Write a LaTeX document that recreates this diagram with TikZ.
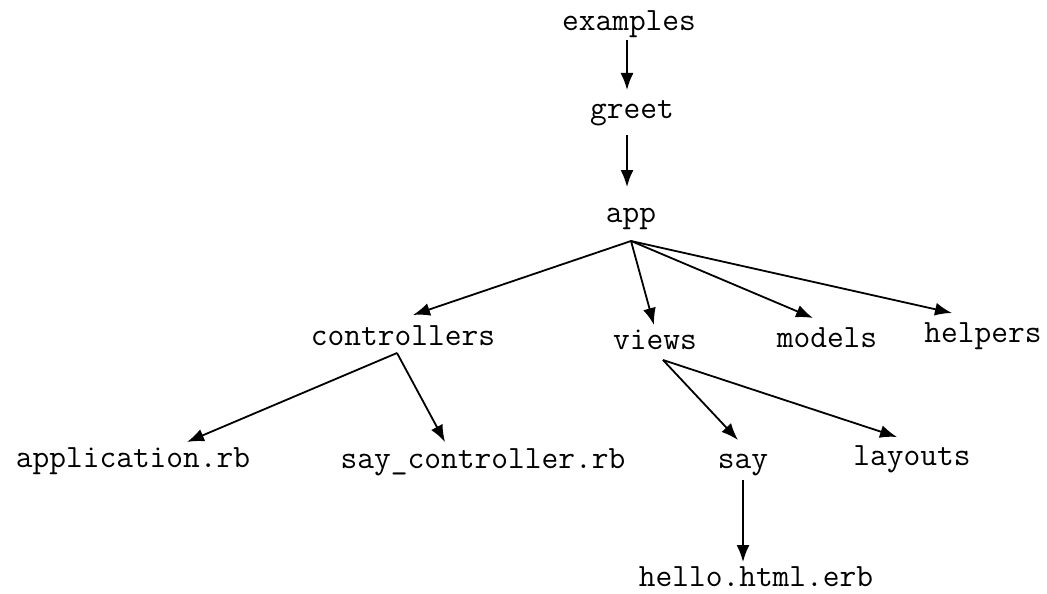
\documentclass[tikz,border=0pt]{standalone}
\usepackage{fontspec}
\usetikzlibrary{arrows.meta,calc}
\tikzset{
  lbl/.style={anchor=base, inner sep=0pt, font=\ttfamily\fontsize{32.5}{34}\selectfont},
  arr/.style={line width=1.8pt, -{Latex[length=17pt,width=13pt]}}
}
\begin{document}
\begin{tikzpicture}[x=1pt,y=-1pt]
\useasboundingbox (0,0) rectangle (1047,594);
\fill[white] (0,0) rectangle (1047,594);
% nodes
\node[lbl] (examples) at (629,31) {examples};
\node[lbl] (greet) at (632,118) {greet};
\node[lbl] (app) at (631,222) {app};
\node[lbl] (controllers) at (403,345) {controllers};
\node[lbl] (views) at (655,349) {views};
\node[lbl] (models) at (827,347) {models};
\node[lbl] (helpers) at (983,342) {helpers};
\node[lbl] (application) at (133,467) {application.rb};
\node[lbl] (sayctrl) at (483,468) {say\_controller.rb};
\node[lbl] (say) at (743,468) {say};
\node[lbl] (layouts) at (912,465) {layouts};
\node[lbl] (hello) at (756,586) {hello.html.erb};
% fan points
\coordinate (appf) at ($(app.base)+(0,19)$);
\coordinate (ctrlf) at ($(controllers.base)+(-6,8)$);
\coordinate (viewsf) at ($(views.base)+(8,11)$);
% connectors
\draw[arr] ($(examples.base)+(-2,9)$) -- ($(greet.base)+(-5,-28)$);
\draw[arr] ($(greet.base)+(-5,17)$) -- ($(app.base)+(-4,-35)$);
\draw[arr] (appf) -- ($(controllers.base)+(10,-30)$);
\draw[arr] (appf) -- ($(views.base)+(-1,-24)$);
\draw[arr] (appf) -- ($(models.base)+(-14,-29)$);
\draw[arr] (appf) -- ($(helpers.base)+(-31,-29)$);
\draw[arr] (ctrlf) -- ($(application.base)+(54,-25)$);
\draw[arr] (ctrlf) -- ($(sayctrl.base)+(-38,-26)$);
\draw[arr] (viewsf) -- ($(say.base)+(-5,-28)$);
\draw[arr] (viewsf) -- ($(layouts.base)+(-15,-28)$);
\draw[arr] ($(say.base)+(0,12)$) -- ($(hello.base)+(-13,-24)$);
\end{tikzpicture}
\end{document}
